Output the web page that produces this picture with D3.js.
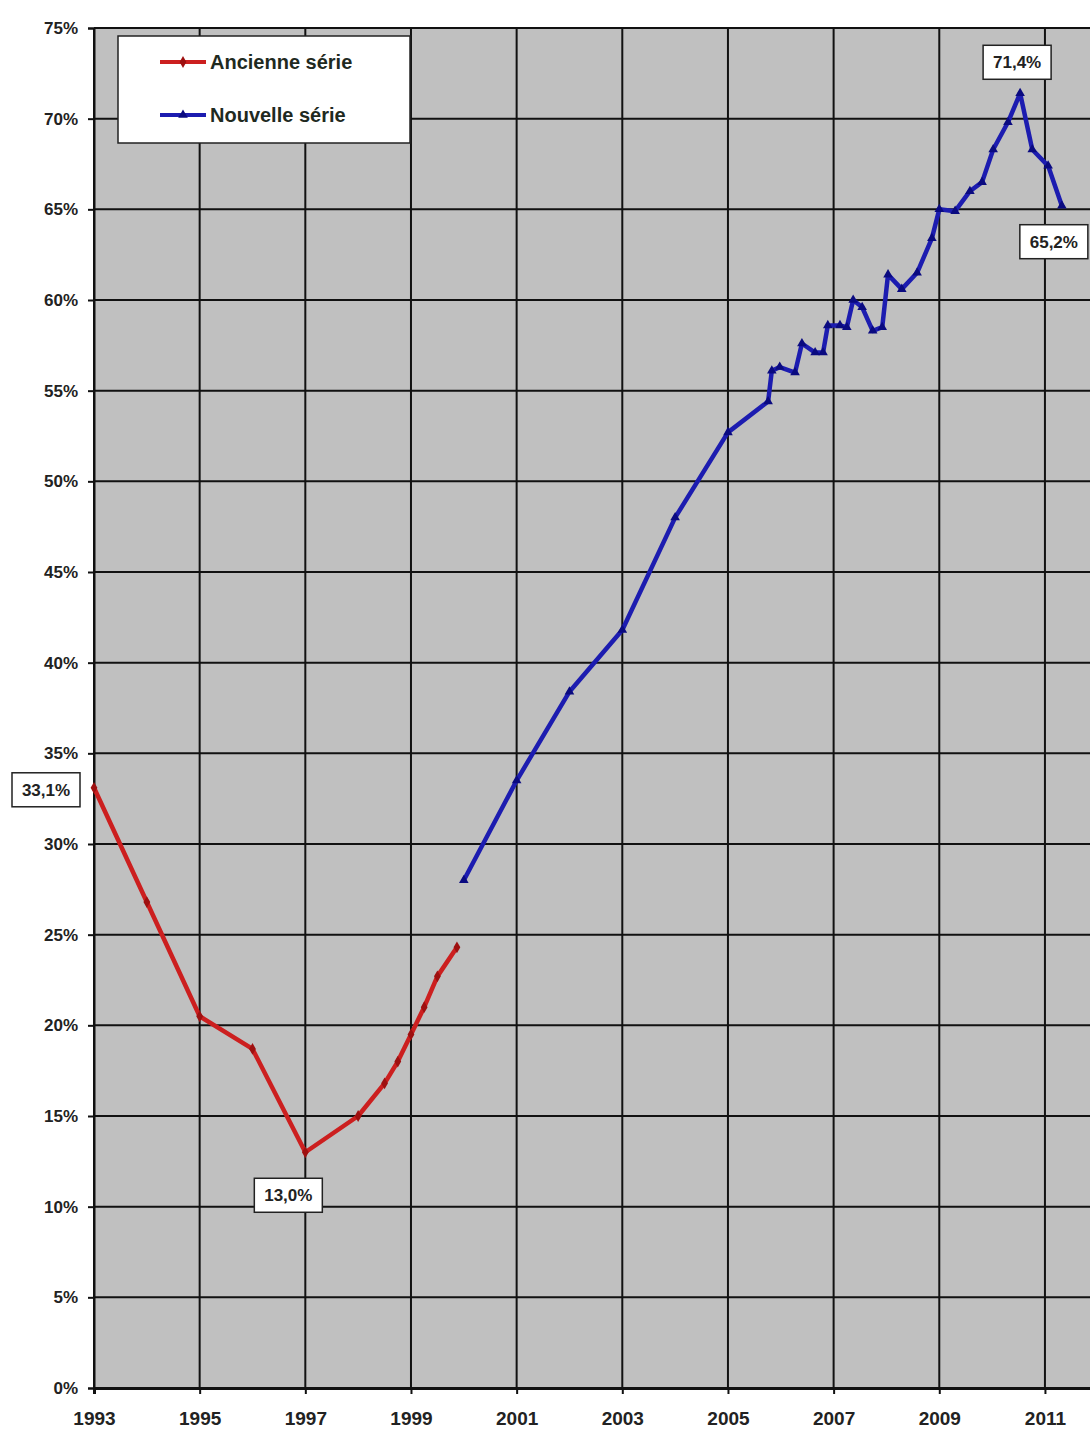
<!DOCTYPE html>
<html>
<head>
<meta charset="utf-8">
<script src="https://cdn.jsdelivr.net/npm/d3@7"></script>
<style>
body { margin: 0; background: #ffffff; }
#chart { width: 1090px; height: 1432px; overflow: hidden; }
text { font-family: "Liberation Sans", Arial, sans-serif; font-weight: bold; }
</style>
</head>
<body>
<div id="chart"></div>
<script>
// old series (decimal years, % values)
var ancienneYears = [1993, 1994, 1995, 1996, 1997, 1998, 1998.5, 1998.75, 1999, 1999.25, 1999.5, 1999.87];
var ancienneValues = [33.1, 26.8, 20.5, 18.7, 13.0, 15.0, 16.8, 18.0, 19.5, 21.0, 22.7, 24.3];

// new series
var nouvelleYears = [2000, 2001, 2002, 2003, 2004, 2005, 2005.76, 2005.83, 2005.98, 2006.27, 2006.4, 2006.65,
    2006.8, 2006.89, 2007.12, 2007.25, 2007.37, 2007.54, 2007.74, 2007.92, 2008.03, 2008.29, 2008.58,
    2008.86, 2009.0, 2009.3, 2009.58, 2009.81, 2010.02, 2010.3, 2010.53, 2010.76, 2011.06, 2011.32];
var nouvelleValues = [28.0, 33.5, 38.4, 41.8, 48.0, 52.7, 54.4, 56.1, 56.3, 56.0, 57.6, 57.1,
    57.1, 58.6, 58.6, 58.5, 60.0, 59.6, 58.3, 58.5, 61.4, 60.6, 61.5,
    63.4, 65.0, 64.9, 66.0, 66.5, 68.3, 69.8, 71.4, 68.3, 67.4, 65.2];

var yTicks = [0, 5, 10, 15, 20, 25, 30, 35, 40, 45, 50, 55, 60, 65, 70, 75];
var xTicks = [1993, 1995, 1997, 1999, 2001, 2003, 2005, 2007, 2009, 2011];
var seriesNames = ["Ancienne série", "Nouvelle série"];

// labelled points: [series, index, text]
var callouts = [["a", 0, "33,1%"], ["a", 4, "13,0%"], ["n", 30, "71,4%"], ["n", 33, "65,2%"]];

var RED = "#cc1f1f";
var BLUE = "#1c1cb0";

function toPoints(years, values) {
    var pts = [];
    for (var i in years) {
        pts.push({ x: years[i], y: values[i] });
    }
    return pts;
}

function drawChart() {
    var width = 1090, height = 1432;
    var left = 94, top = 28, bottom = 1388;

    var svg = d3.select("#chart").append("svg")
        .attr("width", width)
        .attr("height", height);

    var x = d3.scaleLinear().domain([1993, 2012]).range([left, left + 19 * 52.83]);
    var y = d3.scaleLinear().domain([0, 75]).range([bottom, top]);

    // plot area
    svg.append("rect")
        .attr("x", left).attr("y", top)
        .attr("width", width - left).attr("height", bottom - top)
        .attr("fill", "#c0c0c0");

    // grid
    svg.selectAll("line.hgrid").data(yTicks).enter().append("line")
        .attr("class", "hgrid")
        .attr("x1", left).attr("x2", width)
        .attr("y1", function (d) { return y(d); })
        .attr("y2", function (d) { return y(d); })
        .attr("stroke", "#111").attr("stroke-width", 2);
    svg.selectAll("line.vgrid").data(xTicks).enter().append("line")
        .attr("class", "vgrid")
        .attr("x1", function (d) { return x(d); })
        .attr("x2", function (d) { return x(d); })
        .attr("y1", top).attr("y2", bottom)
        .attr("stroke", "#111").attr("stroke-width", 2);

    // axes
    var yAxis = d3.axisLeft(y).tickValues(yTicks).tickSize(6).tickPadding(10)
        .tickFormat(function (d) { return d + "%"; });
    var gy = svg.append("g").attr("transform", "translate(" + left + ",0)").call(yAxis);
    gy.select(".domain").attr("stroke", "#111").attr("stroke-width", 2);
    gy.selectAll(".tick line").attr("stroke", "#111").attr("stroke-width", 2);
    gy.selectAll("text").attr("font-size", "17px").attr("fill", "#222");

    var xAxis = d3.axisBottom(x).tickValues(xTicks).tickSize(6).tickPadding(18)
        .tickFormat(d3.format("d"));
    var gx = svg.append("g").attr("transform", "translate(0," + bottom + ")").call(xAxis);
    gx.select(".domain").attr("stroke", "#111").attr("stroke-width", 3);
    gx.selectAll(".tick line").attr("stroke", "#111").attr("stroke-width", 2);
    gx.selectAll("text").attr("font-size", "19px").attr("fill", "#222");

    var line = d3.line().x(function (d) { return x(d.x); }).y(function (d) { return y(d.y); });

    var ancienne = toPoints(ancienneYears, ancienneValues);
    var nouvelle = toPoints(nouvelleYears, nouvelleValues);

    svg.append("path").datum(ancienne)
        .attr("d", line).attr("fill", "none")
        .attr("stroke", RED).attr("stroke-width", 4.5).attr("stroke-linejoin", "round");
    svg.append("path").datum(nouvelle)
        .attr("d", line).attr("fill", "none")
        .attr("stroke", BLUE).attr("stroke-width", 4.5).attr("stroke-linejoin", "round");

    // markers
    svg.selectAll("path.mk-a").data(ancienne).enter().append("path")
        .attr("class", "mk-a")
        .attr("d", d3.symbol().type(d3.symbolDiamond).size(40))
        .attr("transform", function (d) { return "translate(" + x(d.x) + "," + y(d.y) + ")"; })
        .attr("fill", "#9e1010");
    svg.selectAll("path.mk-n").data(nouvelle).enter().append("path")
        .attr("class", "mk-n")
        .attr("d", d3.symbol().type(d3.symbolTriangle).size(40))
        .attr("transform", function (d) { return "translate(" + x(d.x) + "," + y(d.y) + ")"; })
        .attr("fill", "#0a0a80");

    // value boxes
    var boxPos = {
        "33,1%": { dx: -82, dy: -15 },
        "13,0%": { dx: -51, dy: 26 },
        "71,4%": { dx: -37, dy: -48 },
        "65,2%": { dx: -42, dy: 19 }
    };
    for (var i in callouts) {
        var c = callouts[i];
        var pt = (c[0] == "a") ? ancienne[c[1]] : nouvelle[c[1]];
        var p = boxPos[c[2]];
        var bx = x(pt.x) + p.dx, by = y(pt.y) + p.dy;
        svg.append("rect")
            .attr("x", bx).attr("y", by)
            .attr("width", 68).attr("height", 34)
            .attr("fill", "#ffffff").attr("stroke", "#222").attr("stroke-width", 1.5);
        svg.append("text")
            .attr("x", bx + 34).attr("y", by + 23)
            .attr("text-anchor", "middle")
            .attr("font-size", "17px").attr("fill", "#222")
            .text(c[2]);
    }

    // legend
    var legend = svg.append("g");
    legend.append("rect")
        .attr("x", 118).attr("y", 36).attr("width", 292).attr("height", 107)
        .attr("fill", "#ffffff").attr("stroke", "#222").attr("stroke-width", 1.5);
    var legendColors = [RED, BLUE];
    var legendMarks = [d3.symbolDiamond, d3.symbolTriangle];
    var legendMarkColors = ["#9e1010", "#0a0a80"];
    for (var k = 0; k < seriesNames.length; k++) {
        var ly = 62 + k * 53;
        legend.append("line")
            .attr("x1", 160).attr("x2", 206).attr("y1", ly).attr("y2", ly)
            .attr("stroke", legendColors[k]).attr("stroke-width", 4);
        legend.append("path")
            .attr("d", d3.symbol().type(legendMarks[k]).size(40))
            .attr("transform", "translate(183," + ly + ")")
            .attr("fill", legendMarkColors[k]);
        legend.append("text")
            .attr("x", 210).attr("y", ly + 7)
            .attr("font-size", "20px").attr("fill", "#1f2a1f")
            .text(seriesNames[k]);
    }
}

drawChart();
</script>
</body>
</html>
